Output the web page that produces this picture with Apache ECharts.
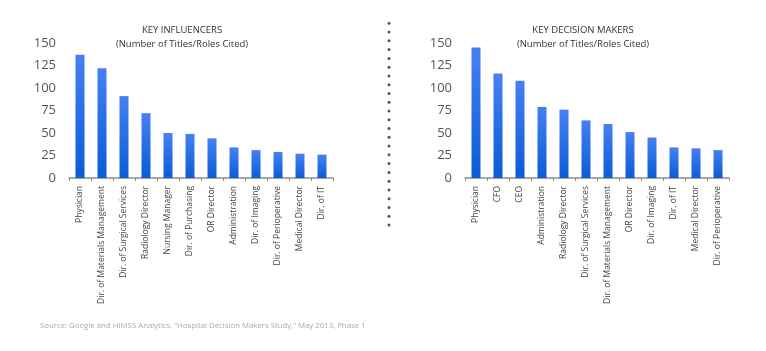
<!DOCTYPE html>
<html>
<head>
<meta charset="utf-8">
<style>
    html, body { margin: 0; padding: 0; background: #fff; }
    #main { width: 766px; height: 351px; }
</style>
<script src="https://cdn.jsdelivr.net/npm/echarts@6/dist/echarts.min.js"></script>
</head>
<body>
<div id="main"></div>
<script>
// 数据
const influencerRoles = ['Physician', 'Dir. of Materials Management', 'Dir. of Surgical Services', 'Radiology Director',
    'Nursing Manager', 'Dir. of Purchasing', 'OR Director', 'Administration', 'Dir. of Imaging',
    'Dir. of Perioperative', 'Medical Director', 'Dir. of IT']
const influencerCounts = [137, 122, 91, 72, 50, 49, 44, 34, 31, 29, 27, 26]

const deciderRoles = ['Physician', 'CFO', 'CEO', 'Administration', 'Radiology Director', 'Dir. of Surgical Services',
    'Dir. of Materials Management', 'OR Director', 'Dir. of Imaging', 'Dir. of IT', 'Medical Director',
    'Dir. of Perioperative']
const deciderCounts = [145, 116, 108, 79, 76, 64, 60, 51, 45, 34, 33, 31]

const yTicks = [0, 25, 50, 75, 100, 125, 150]

;(function () {
    const font = '"Open Sans", "DejaVu Sans", sans-serif'
    const chart = echarts.init(document.getElementById('main'))

    // 柱子渐变色
    const barColor = {
        type: 'linear', x: 0, y: 0, x2: 0, y2: 1,
        colorStops: [
            { offset: 0, color: '#4580f2' },
            { offset: 1, color: '#0a5cd8' },
        ],
    }

    function xAxisOf(idx, roles) {
        return {
            type: 'category',
            gridIndex: idx,
            data: roles,
            axisLine: { lineStyle: { color: '#8a8a8a', width: 1.5 } },
            axisTick: { show: true, length: 3, lineStyle: { color: '#8a8a8a' } },
            axisLabel: { rotate: 90, margin: 8, color: '#444', fontSize: 8.5, fontFamily: font, interval: 0 },
        }
    }

    function yAxisOf(idx) {
        return {
            type: 'value',
            gridIndex: idx,
            min: yTicks[0],
            max: yTicks[yTicks.length - 1],
            interval: yTicks[1] - yTicks[0],
            axisLine: { show: false },
            axisTick: { show: false },
            splitLine: { show: false },
            axisLabel: { margin: 13, color: '#555', fontSize: 13, fontFamily: font },
        }
    }

    function barOf(idx, name, data) {
        return {
            name: name,
            type: 'bar',
            xAxisIndex: idx,
            yAxisIndex: idx,
            data: data,
            barWidth: 9,
            itemStyle: { color: barColor },
        }
    }

    // 中间的点状分隔线
    const dots = []
    for (let i = 0; i < 24; i++) {
        dots.push({ type: 'circle', shape: { cx: 389, cy: 23.3 + i * 8.77, r: 1.5 }, style: { fill: '#555' } })
    }

    function titleText(x, y, text) {
        return {
            type: 'text', x: x, y: y,
            style: { text: text, fill: '#333', font: '9.5px ' + font, align: 'center', verticalAlign: 'middle' },
        }
    }

    const option = {
        animation: false,
        grid: [
            { left: 69, top: 43, width: 264, height: 135 },
            { left: 465, top: 43, width: 264, height: 135 },
        ],
        xAxis: [xAxisOf(0, influencerRoles), xAxisOf(1, deciderRoles)],
        yAxis: [yAxisOf(0), yAxisOf(1)],
        series: [
            barOf(0, 'Key Influencers', influencerCounts),
            barOf(1, 'Key Decision Makers', deciderCounts),
        ],
        graphic: [
            titleText(182, 30, 'KEY INFLUENCERS'),
            titleText(182, 44, '(Number of Titles/Roles Cited)'),
            titleText(583, 30, 'KEY DECISION MAKERS'),
            titleText(583, 44, '(Number of Titles/Roles Cited)'),
            {
                type: 'text', x: 40, y: 326,
                style: {
                    text: 'Source: Google and HIMSS Analytics, \u201cHospital Decision Makers Study,\u201d May 2013, Phase 1',
                    fill: '#aaa', font: '7.8px ' + font, verticalAlign: 'middle',
                },
            },
        ].concat(dots),
    }

    chart.setOption(option)
})()
</script>
</body>
</html>
